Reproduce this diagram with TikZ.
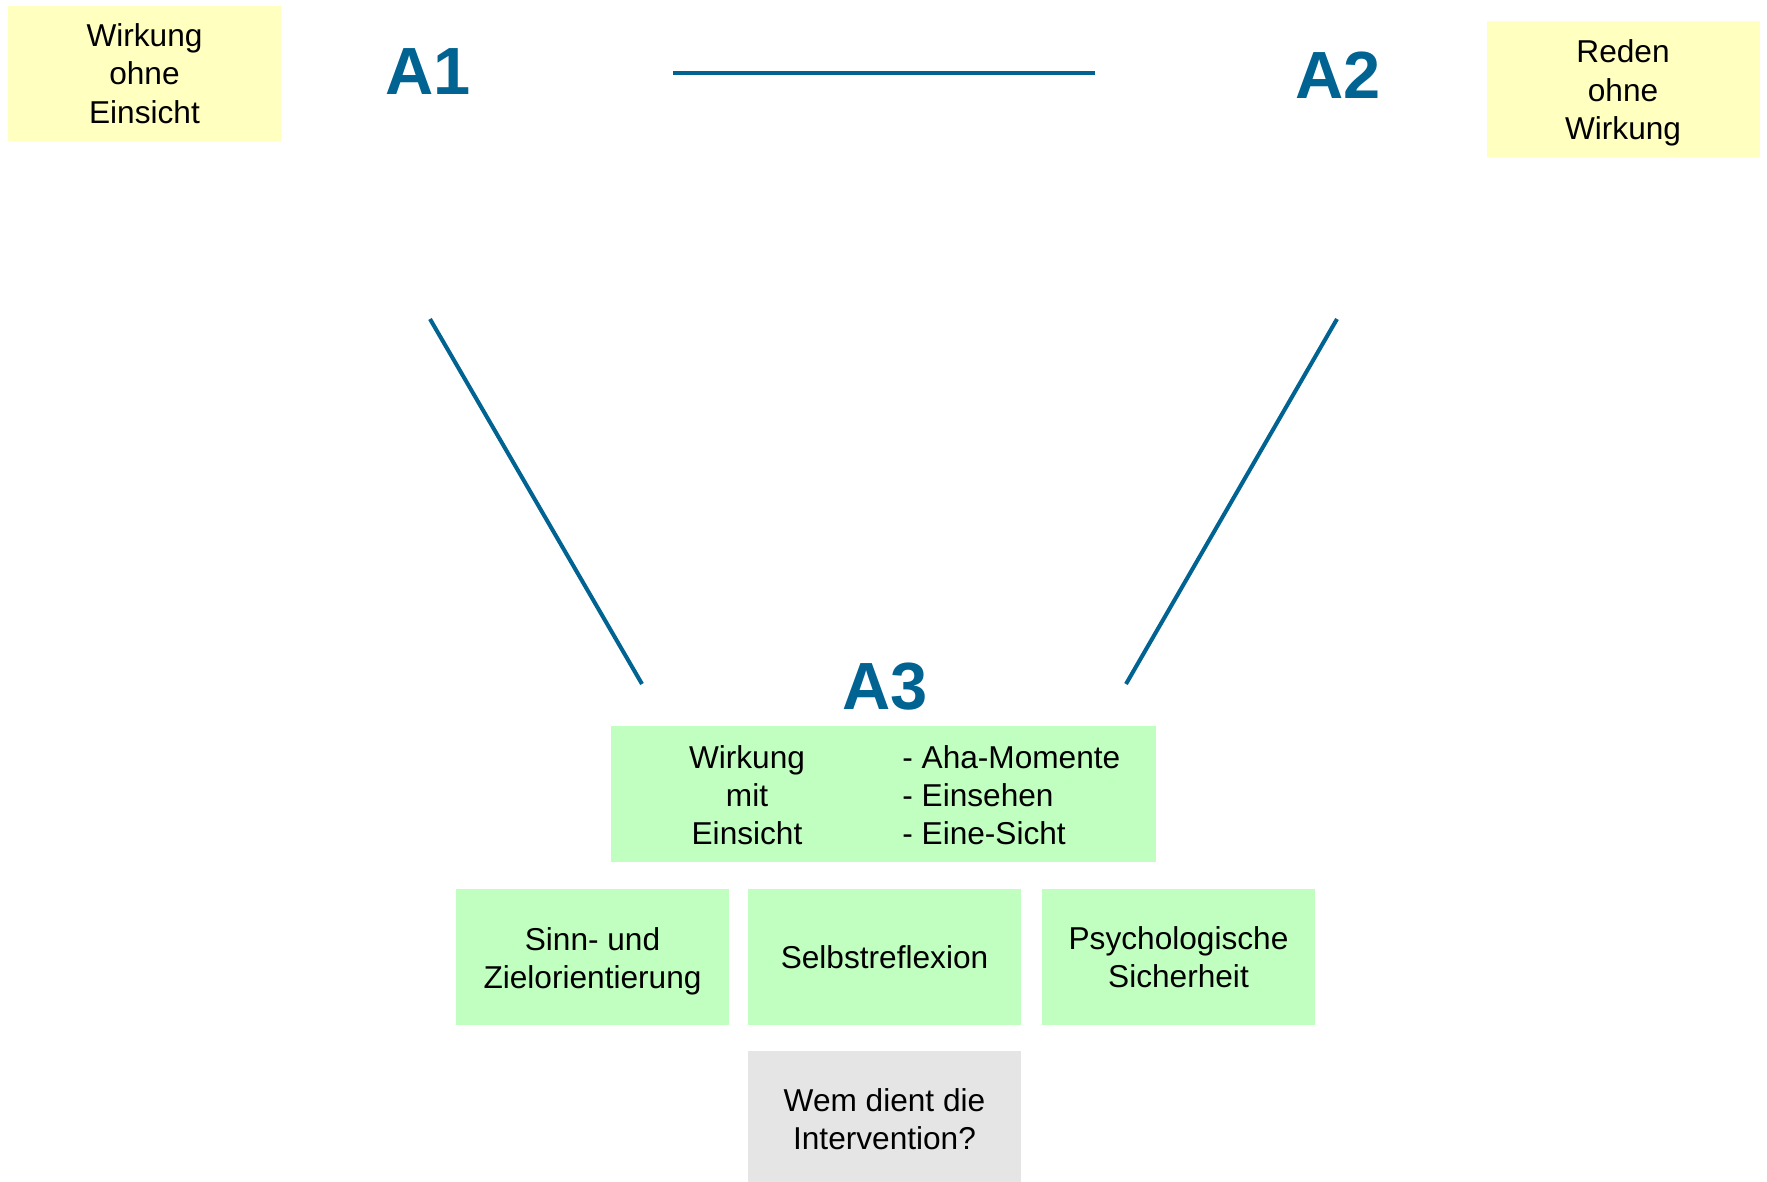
\documentclass[tikz,border=0pt]{standalone}
\usepackage{fontspec}
\setmainfont{Liberation Sans}
\definecolor{abox}{RGB}{255,255,192}
\definecolor{gbox}{RGB}{192,255,192}
\definecolor{qbox}{RGB}{229,229,229}
\definecolor{ablue}{RGB}{0,99,145}
\newcommand{\lowtext}[1]{\raisebox{-2.6pt}[\height][\depth]{\begin{tabular}{@{}c@{}}#1\end{tabular}}}

\begin{document}
\begin{tikzpicture}[x=0.02cm,y=-0.02cm]

      \clip (0,0) rectangle (1767,1182);

      \begin{scope}[every node/.style={inner sep=0pt,minimum width=5.46cm,minimum height=2.72cm,
          align=center,font=\fontsize{18}{21.8}\selectfont}]
        \node[fill=abox] (y1) at (144.5,73.5) {Wirkung\\ohne\\Einsicht};
        \node[fill=abox] (y2) at (1623,89) {\lowtext{Reden\\ohne\\Wirkung}};
        \node[fill=gbox,minimum width=10.9cm] (g0) at (883.5,794) {};
        \node[fill=gbox] (g1) at (592.5,957) {\lowtext{Sinn- und\\Zielorientierung}};
        \node[fill=gbox] (g2) at (884.5,957) {Selbstreflexion};
        \node[fill=gbox] (g3) at (1178.5,957) {Psychologische\\Sicherheit};
        \node[fill=qbox] (q1) at (884.5,1119) {Wem dient die\\Intervention?};
      \end{scope}

      \begin{scope}[every node/.style={inner sep=0pt,font=\fontsize{18}{21.8}\selectfont}]
        \node[align=center] (t1) at (747,795) {Wirkung\\mit\\Einsicht};
        \node[align=left,anchor=west] (t2) at (902,795) {- Aha-Momente\\- Einsehen\\- Eine-Sicht};
      \end{scope}

      \begin{scope}[every node/.style={inner sep=0pt,text=ablue,font=\fontsize{38}{40}\selectfont\bfseries}]
        \node (a1) at (428,72) {A1};
        \node (a2) at (1338,75) {A2};
        \node (a3) at (885,687) {A3};
      \end{scope}

      \coordinate (e1) at (673,73);
      \coordinate (e2) at (1095,73);
      \coordinate (e3) at (430,319);
      \coordinate (e4) at (642,684);
      \coordinate (e5) at (1337,319);
      \coordinate (e6) at (1126,684);

      \begin{scope}[every path/.style={draw=ablue,line width=2.3pt}]
        \path (e1) -- (e2);
        \path (e3) -- (e4);
        \path (e5) -- (e6);
      \end{scope}

    \end{tikzpicture}
\end{document}
